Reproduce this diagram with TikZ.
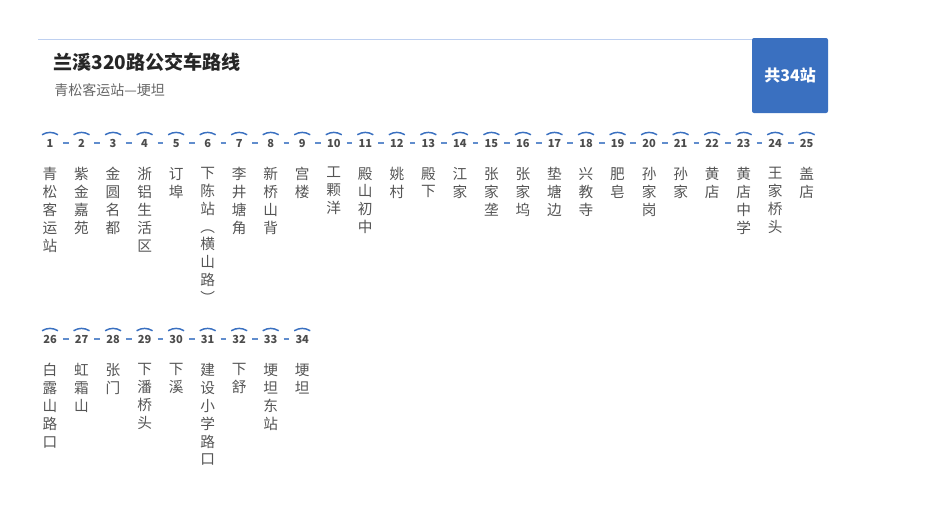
\documentclass[tikz,border=0pt]{standalone}
\usepackage{fontspec}
\setmainfont{Noto Sans CJK SC}
\usepackage{tikz}
\usetikzlibrary{positioning}
\definecolor{routeblue}{RGB}{58,112,192}
\definecolor{lineblue}{RGB}{190,208,240}
\definecolor{namegray}{RGB}{85,85,85}
\makeatletter
\newcommand{\vname}[1]{\vname@a#1\relax}
\def\vname@a#1#2\relax{#1\ifx\relax#2\relax\expandafter\@gobble\else\expandafter\@firstofone\fi{\\\vname@a#2\relax}}
\makeatother

\begin{document}
\begin{tikzpicture}[x=0.75pt,y=-0.75pt,every node/.style={inner sep=0pt},
    stopnum/.style={font=\fontsize{8.3}{9}\selectfont\bfseries,text=black!70,
      minimum width=15pt,text height=6pt,text depth=0pt},
    stopname/.style={font=\fontsize{11}{13.4}\selectfont,text=namegray,
      align=center,anchor=north},
    stoplink/.style={routeblue!80,line width=1.5pt,shorten <=2pt,shorten >=2pt},
    stoparc/.style={routeblue,line width=1.1pt}]
  \useasboundingbox (0,0) rectangle (944,526);
  % header
  \node[anchor=west,font=\fontsize{14.3}{16}\selectfont\bfseries,text=black!85]
    (title) at (53,62) {兰溪320路公交车路线};
  \node[anchor=west,font=\fontsize{10.5}{12}\selectfont,text=black!60]
    (subtitle) at (54,90) {青松客运站—埂坦};
  \node[fill=routeblue,rounded corners=1.5pt,text=white,
        minimum width=57pt,minimum height=56.25pt,
        font=\fontsize{12}{14}\selectfont\bfseries]
    (total) at (790,75.5) {共34站};
  \coordinate (topleft) at (38,39.5);
  \draw[lineblue,line width=0.75pt] (topleft) -- (topleft -| total.west);
  % stops
  \foreach \name [count=\i] in {青松客运站,紫金嘉苑,金圆名都,浙铝生活区,订埠,
      下陈站︵横山路︶,李井塘角,新桥山背,宫楼,工颗洋,殿山初中,姚村,殿下,江家,
      张家垄,张家坞,垫塘边,兴教寺,肥皂,孙家岗,孙家,黄店,黄店中学,王家桥头,盖店,
      白露山路口,虹霜山,张门,下潘桥头,下溪,建设小学路口,下舒,埂坦东站,埂坦} {
    \pgfmathtruncatemacro\row{\i>25}
    \pgfmathtruncatemacro\col{\i-1-25*\row}
    \node[stopnum] (s\i) at ({50+31.53*\col},{143+196*\row}) {\i};
    \node[stopname] (n\i) at ({50+31.53*\col},{167+196*\row})
      {\expandafter\vname\expandafter{\name}};
    \draw[stoparc] ([shift={(-6pt,3pt)}]s\i.north) to[bend left=30]
      ([shift={(6pt,3pt)}]s\i.north);
  }
  \foreach \i in {1,...,33} {
    \ifnum\i=25 \else
      \pgfmathtruncatemacro\j{\i+1}
      \draw[stoplink] (s\i) -- (s\j);
    \fi
  }
\end{tikzpicture}
\end{document}
